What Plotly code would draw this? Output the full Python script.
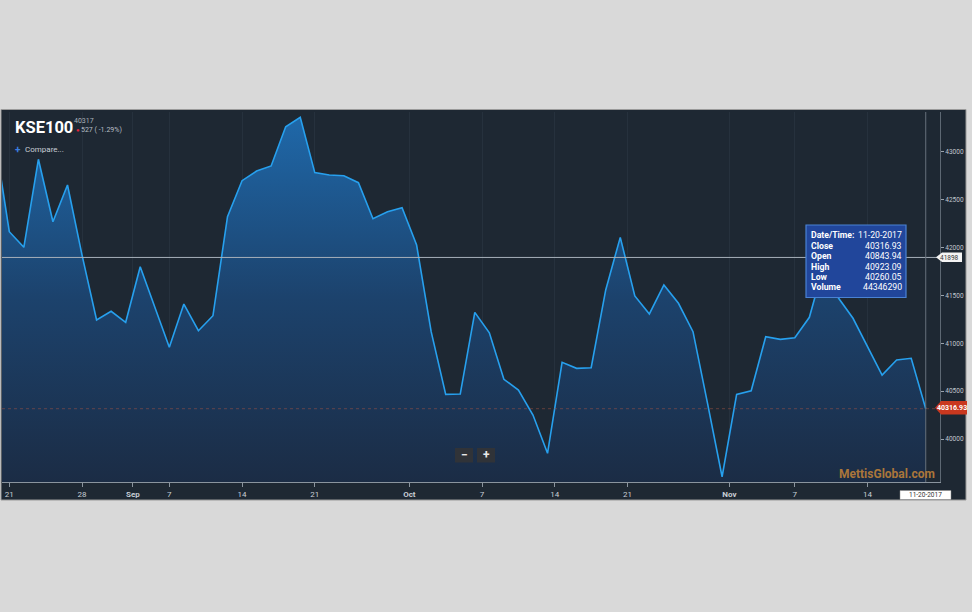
import datetime as dt
import plotly.graph_objects as go

# ---------------- data ----------------
dates = ["2017-08-18", "2017-08-21", "2017-08-22", "2017-08-23", "2017-08-24", "2017-08-25",
         "2017-08-28", "2017-08-29", "2017-08-30", "2017-08-31", "2017-09-05", "2017-09-06",
         "2017-09-07", "2017-09-08", "2017-09-11", "2017-09-12", "2017-09-13", "2017-09-14",
         "2017-09-15", "2017-09-18", "2017-09-19", "2017-09-20", "2017-09-21", "2017-09-22",
         "2017-09-25", "2017-09-26", "2017-09-27", "2017-09-28", "2017-09-29", "2017-10-02",
         "2017-10-03", "2017-10-04", "2017-10-05", "2017-10-06", "2017-10-09", "2017-10-10",
         "2017-10-11", "2017-10-12", "2017-10-13", "2017-10-16", "2017-10-17", "2017-10-18",
         "2017-10-19", "2017-10-20", "2017-10-23", "2017-10-24", "2017-10-25", "2017-10-26",
         "2017-10-27", "2017-10-30", "2017-10-31", "2017-11-01", "2017-11-02", "2017-11-03",
         "2017-11-06", "2017-11-07", "2017-11-08", "2017-11-09", "2017-11-10", "2017-11-13",
         "2017-11-14", "2017-11-15", "2017-11-16", "2017-11-17", "2017-11-20"]

closes = [43150, 42167, 42004, 42924, 42271, 42655, 41923, 41244, 41335, 41220,
          41801, 41383, 40959, 41411, 41132, 41289, 42324, 42700, 42801, 42854,
          43264, 43363, 42784, 42760, 42752, 42679, 42303, 42376, 42418, 42028,
          41122, 40467, 40470, 41324, 41111, 40624, 40512, 40251, 39851, 40802,
          40739, 40745, 41558, 42108, 41495, 41307, 41610, 41419, 41122, 40373,
          39606, 40467, 40505, 41069, 41042, 41059, 41272, 41819, 41474, 41262,
          40965, 40669, 40826, 40844, 40316.93]

tick_dates = ["2017-08-21", "2017-08-28", "2017-09-01", "2017-09-07", "2017-09-14", "2017-09-21",
              "2017-10-01", "2017-10-07", "2017-10-14", "2017-10-21", "2017-11-01", "2017-11-07",
              "2017-11-14"]
tick_labels = ["21", "28", "<b>Sep</b>", "7", "14", "21", "<b>Oct</b>", "7", "14", "21",
               "<b>Nov</b>", "7", "14"]

y_ticks = [40000, 40500, 41000, 41500, 42000, 42500, 43000]

crosshair_value = 41898
last_close = 40316.93
prev_close_display = 40317
change_text = "527 ( -1.29%)"

tooltip_labels = ["Date/Time:", "Close", "Open", "High", "Low", "Volume"]
tooltip_values = ["11-20-2017", "40316.93", "40843.94", "40923.09", "40260.05", "44346290"]

# ---------------- helpers ----------------
W, H = 972, 612
PL, PR, PT, PB = 2, 940, 112, 482


def pxx(x):
    return (x - PL) / (PR - PL)


def pxy(y):
    return (PB - y) / (PB - PT)


dts = [dt.date.fromisoformat(d) for d in dates]


def tick_pos(ds):
    d = dt.date.fromisoformat(ds)
    i = next(k for k, v in enumerate(dts) if v >= d)
    if dts[i] != d or d.day == 1:
        return i - 0.5
    return i


tick_vals = [tick_pos(d) for d in tick_dates]
x_idx = list(range(len(dates)))
last_idx = len(dates) - 1

X_RANGE = [0.498, 64.98]
Y_RANGE = [39551, 43418]

FONT = "Roboto"
BG = "#1e2833"

fig = go.Figure()
fig.add_trace(go.Scatter(
    x=x_idx, y=closes, mode="lines",
    line=dict(color="#27a0ee", width=1.6),
    fill="tozeroy",
    fillgradient=dict(type="vertical", start=Y_RANGE[0], stop=max(closes),
                      colorscale=[[0, "#1b2c45"], [0.5, "#1c426c"], [1, "#1f68a9"]]),
    hoverinfo="skip", showlegend=False,
))

shapes = []
# dark panel
shapes.append(dict(type="rect", xref="paper", yref="paper", layer="below",
                   x0=pxx(1), x1=pxx(966), y0=pxy(500), y1=pxy(109.5),
                   fillcolor=BG, line=dict(color="#9a9a9a", width=1)))
# crosshair horizontal
shapes.append(dict(type="line", xref="paper", yref="y", x0=0, x1=1,
                   y0=crosshair_value, y1=crosshair_value,
                   line=dict(color="#a7b0b9", width=1)))
# last price dashed line
shapes.append(dict(type="line", xref="paper", yref="y", x0=0, x1=1,
                   y0=last_close, y1=last_close,
                   line=dict(color="rgba(170,85,70,0.5)", width=1, dash="3px,3px")))
# vertical crosshair at last point
shapes.append(dict(type="line", xref="x", yref="paper", x0=last_idx, x1=last_idx,
                   y0=0, y1=1, line=dict(color="#66717c", width=1)))
# tooltip box
shapes.append(dict(type="rect", xref="paper", yref="paper",
                   x0=pxx(806), x1=pxx(906), y0=pxy(297.5), y1=pxy(225),
                   fillcolor="#21469b", line=dict(color="#4a82d4", width=1.2)))
# zoom buttons
for a, b in [(455, 473), (477, 495)]:
    shapes.append(dict(type="rect", xref="paper", yref="paper",
                       x0=pxx(a), x1=pxx(b), y0=pxy(462.5), y1=pxy(448),
                       fillcolor="#303338", line=dict(width=0)))


def tag_path(x_tip, x_end, y_top, y_bot, notch=6):
    ym = (y_top + y_bot) / 2
    pts = [(x_tip, ym), (x_tip + notch, y_top), (x_end, y_top), (x_end, y_bot), (x_tip + notch, y_bot)]
    s = "M " + " L ".join(f"{pxx(a):.5f},{pxy(b):.5f}" for a, b in pts) + " Z"
    return s


# crosshair value tag (white)
shapes.append(dict(type="path", xref="paper", yref="paper",
                   path=tag_path(936, 962, 252.5, 262), fillcolor="#f4f4f4",
                   line=dict(width=0)))
# last price tag (red)
shapes.append(dict(type="path", xref="paper", yref="paper",
                   path=tag_path(935, 967, 401, 414.5), fillcolor="#c9381f",
                   line=dict(width=0)))
# date tag at bottom
shapes.append(dict(type="rect", xref="paper", yref="paper",
                   x0=pxx(900), x1=pxx(951), y0=pxy(499.5), y1=pxy(490.5),
                   fillcolor="#ffffff", line=dict(color="#888", width=0.5)))

annotations = []


def ann(text, x, y, size, color, bold=False, xanchor="left", yanchor="middle"):
    if bold:
        text = f"<b>{text}</b>"
    annotations.append(dict(text=text, xref="paper", yref="paper", x=pxx(x), y=pxy(y),
                            xanchor=xanchor, yanchor=yanchor, showarrow=False,
                            font=dict(family=FONT, size=size, color=color)))


ann("KSE100", 13, 127, 16.5, "#ffffff", bold=True)
ann(str(prev_close_display), 72, 121.5, 7, "#a9b0b8")
ann("●", 73.5, 130, 6, "#e0243a")
ann(change_text, 79, 130, 7, "#b8bfc6")
ann("+", 13, 149, 10, "#3c7fe0", bold=True)
ann("Compare...", 23, 149, 8, "#c9cfd6")

rows_y = [235.3, 245.7, 256, 266.7, 277, 287.3]
for lab, val, yy in zip(tooltip_labels, tooltip_values, rows_y):
    ann(lab, 809.0, yy, 8.7, "#ffffff", bold=True)
    ann(val, 903.5, yy, 8.7, "#ffffff", bold=False, xanchor="right")

ann("−", 464, 455, 12, "#e8e8e8", bold=True, xanchor="center")
ann("+", 486, 455, 12, "#e8e8e8", bold=True, xanchor="center")

ann("MettisGlobal.com", 937, 474, 12, "#ab763a", bold=True, xanchor="right")

ann(str(crosshair_value), 949.5, 257.5, 6.5, "#333333", xanchor="center")
ann(f"{last_close:.2f}", 951.5, 408, 7, "#ffffff", bold=True, xanchor="center")
ann(tooltip_values[0], 925.5, 495.2, 6.5, "#333333", xanchor="center")

fig.update_layout(
    width=W, height=H,
    margin=dict(l=PL, r=W - PR, t=PT, b=H - PB, pad=0),
    paper_bgcolor="#d9d9d9",
    plot_bgcolor=BG,
    font=dict(family=FONT, color="#c8ced5"),
    showlegend=False,
    hovermode=False,
    shapes=shapes,
    annotations=annotations,
    xaxis=dict(
        range=X_RANGE, tickmode="array", tickvals=tick_vals, ticktext=tick_labels,
        showgrid=True, gridcolor="#26313d", gridwidth=1, zeroline=False,
        showline=True, linecolor="#8a949e", linewidth=1,
        ticks="outside", ticklen=4, tickcolor="#8a949e",
        tickfont=dict(family=FONT, size=8, color="#c8ced5"),
        fixedrange=True,
    ),
    yaxis=dict(
        range=Y_RANGE, side="right", tickmode="array", tickvals=y_ticks,
        ticktext=[str(v) for v in y_ticks],
        showgrid=False, zeroline=False,
        showline=True, linecolor="#5d6873", linewidth=1,
        ticks="outside", ticklen=3, tickcolor="#9aa3ac",
        tickfont=dict(family=FONT, size=6.5, color="#c0c7ce"),
        fixedrange=True,
    ),
)

fig.write_html("out.html", config={"displayModeBar": False},
               post_script="document.body.style.margin='0px';document.body.style.overflow='hidden';")
